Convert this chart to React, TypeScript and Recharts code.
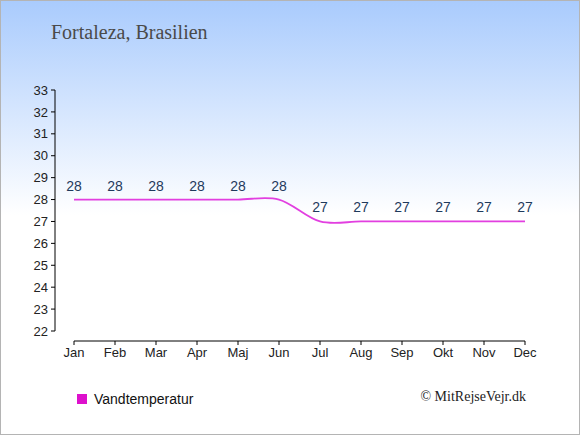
import { LabelList, Line, LineChart, XAxis, YAxis } from "recharts"

const months = ["Jan", "Feb", "Mar", "Apr", "Maj", "Jun", "Jul", "Aug", "Sep", "Okt", "Nov", "Dec"]
const waterTemp = [28, 28, 28, 28, 28, 28, 27, 27, 27, 27, 27, 27]
const yTicks = [22, 23, 24, 25, 26, 27, 28, 29, 30, 31, 32, 33]

const data = months.map((month, i) => ({ month, water: waterTemp[i] }))

// catmull-rom style curve (cardinal, tension 0) like the original
const cardinal = (context: any) => {
  let pts: number[][] = []
  return {
    areaStart() {},
    areaEnd() {},
    lineStart() {
      pts = []
    },
    point(x: number, y: number) {
      pts.push([+x, +y])
    },
    lineEnd() {
      if (!pts.length) return
      context.moveTo(pts[0][0], pts[0][1])
      for (let i = 0; i < pts.length - 1; i++) {
        const p0 = pts[Math.max(i - 1, 0)]
        const p1 = pts[i]
        const p2 = pts[i + 1]
        const p3 = pts[Math.min(i + 2, pts.length - 1)]
        context.bezierCurveTo(
          p1[0] + (p2[0] - p0[0]) / 6,
          p1[1] + (p2[1] - p0[1]) / 6,
          p2[0] - (p3[0] - p1[0]) / 6,
          p2[1] - (p3[1] - p1[1]) / 6,
          p2[0],
          p2[1]
        )
      }
    },
  }
}

const tickStyle = { fontSize: 13, fill: "#222", fontFamily: "Liberation Sans, Arial, sans-serif" }

export default function App() {
  return (
    <div
      style={{
        position: "absolute",
        left: 0,
        top: 0,
        width: 580,
        height: 435,
        background: "linear-gradient(to bottom, #a9cbfd 0px, #ffffff 215px)",
        fontFamily: "Liberation Sans, Arial, sans-serif",
      }}
    >
      <div
        style={{
          position: "absolute",
          left: 51,
          top: 21,
          fontFamily: "Liberation Serif, serif",
          fontSize: 20,
          color: "#4a4a4a",
          whiteSpace: "nowrap",
        }}
      >
        Fortaleza, Brasilien
      </div>
      <LineChart
        width={580}
        height={435}
        data={data}
        margin={{ top: 90, right: 55, bottom: 64, left: 15 }}
        style={{ position: "absolute", left: 0, top: 0 }}
      >
        <YAxis yAxisId="gap" width={19} tick={false} axisLine={false} tickLine={false} />
        <YAxis
          yAxisId="main"
          width={40}
          domain={[22, 33]}
          ticks={yTicks}
          interval={0}
          tickSize={4}
          tickMargin={3}
          tick={tickStyle}
          axisLine={{ stroke: "#000" }}
          tickLine={{ stroke: "#000" }}
        />
        <XAxis xAxisId="gap" dataKey="month" height={10} tick={false} axisLine={false} tickLine={false} />
        <XAxis
          xAxisId="main"
          dataKey="month"
          height={30}
          interval={0}
          tickSize={4}
          tickMargin={3}
          tick={tickStyle}
          axisLine={{ stroke: "#000" }}
          tickLine={{ stroke: "#000" }}
        />
        <Line
          xAxisId="main"
          yAxisId="main"
          dataKey="water"
          type={cardinal as any}
          stroke="#e23fe0"
          strokeWidth={1.8}
          dot={false}
          isAnimationActive={false}
        >
          <LabelList
            dataKey="water"
            position="top"
            offset={9}
            fill="#1f3a5c"
            fontSize={14}
            fontFamily="Liberation Sans, Arial, sans-serif"
          />
        </Line>
      </LineChart>
      <div
        style={{
          position: "absolute",
          left: 77,
          top: 394,
          width: 10,
          height: 10,
          background: "#dd11cc",
        }}
      />
      <div style={{ position: "absolute", left: 94, top: 391, fontSize: 14, color: "#111", whiteSpace: "nowrap" }}>
        Vandtemperatur
      </div>
      <div
        style={{
          position: "absolute",
          right: 54,
          top: 389,
          fontFamily: "Liberation Serif, serif",
          fontSize: 14,
          color: "#222",
          whiteSpace: "nowrap",
        }}
      >
        © MitRejseVejr.dk
      </div>
      <div
        style={{
          position: "absolute",
          left: 0,
          top: 0,
          width: 580,
          height: 435,
          boxSizing: "border-box",
          border: "1px solid #b4b4b4",
          pointerEvents: "none",
        }}
      />
    </div>
  )
}
